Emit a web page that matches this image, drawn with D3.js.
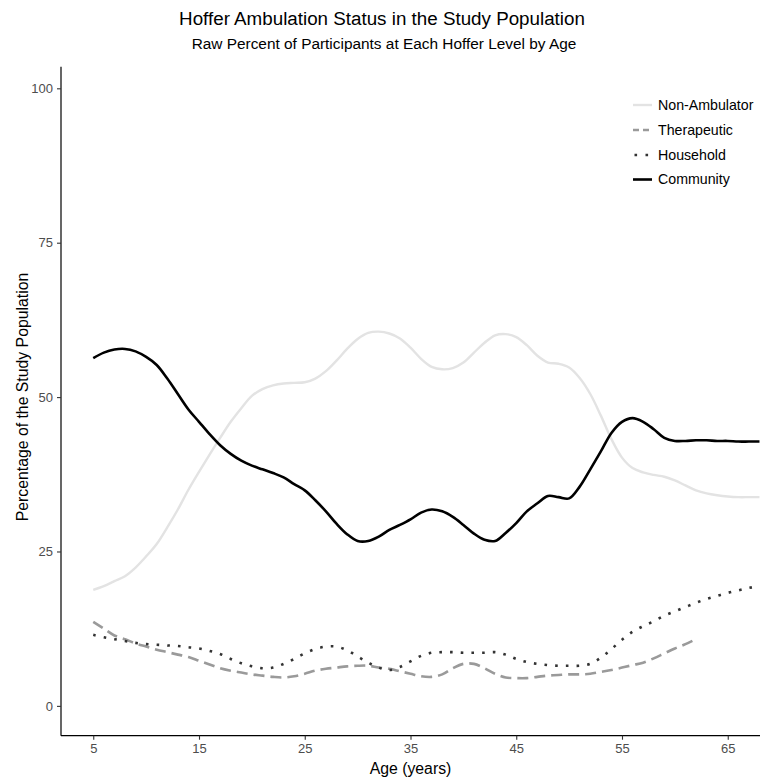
<!DOCTYPE html>
<html>
<head>
<meta charset="utf-8">
<script src="https://cdn.jsdelivr.net/npm/d3@7"></script>
<style>
  html, body { margin: 0; padding: 0; background: #fff; }
  svg { display: block; font-family: "Liberation Sans", Arial, Helvetica, sans-serif; }
</style>
</head>
<body>
<svg id="chart" width="760" height="781"></svg>
<script>
// ---- Data ----
const seriesNames = ["Non-Ambulator", "Therapeutic", "Household", "Community"];

const agesFull = d3.range(5, 69);          // 5..68
const agesTherapeutic = d3.range(5, 63);   // 5..62

const nonAmbulator = [18.8,19.4,20.2,21.0,22.4,24.2,26.2,28.9,31.8,35.0,37.9,40.7,43.4,46.0,48.2,50.2,51.3,51.9,52.2,52.3,52.4,53.0,54.2,55.9,57.8,59.4,60.4,60.6,60.3,59.5,58.0,56.2,54.9,54.5,54.7,55.6,57.2,58.8,60.0,60.2,59.7,58.4,56.7,55.6,55.4,54.8,53.1,50.5,47.0,43.2,40.2,38.5,37.8,37.4,37.1,36.5,35.7,34.9,34.4,34.1,33.9,33.8,33.8,33.8];

const therapeutic = [13.6,12.5,11.4,10.8,10.1,9.6,9.1,8.7,8.3,7.9,7.3,6.7,6.1,5.7,5.4,5.1,4.9,4.7,4.6,4.8,5.2,5.7,6.0,6.2,6.4,6.5,6.5,6.2,6.0,5.6,5.2,4.8,4.7,5.1,6.1,6.8,6.8,6.1,5.2,4.6,4.5,4.5,4.7,4.9,5.0,5.1,5.1,5.2,5.5,5.8,6.2,6.6,7.0,7.7,8.5,9.3,10.0,10.8];

const household = [11.5,11.1,10.8,10.5,10.2,10.0,9.9,9.8,9.7,9.5,9.3,8.9,8.4,7.6,6.9,6.4,6.1,6.2,6.8,7.6,8.5,9.2,9.6,9.6,9.0,8.0,7.0,6.2,5.8,6.3,7.2,8.1,8.6,8.7,8.7,8.6,8.6,8.6,8.7,8.3,7.6,7.1,6.8,6.6,6.5,6.5,6.5,6.8,7.8,9.2,10.7,12.0,12.9,13.7,14.6,15.3,16.0,16.7,17.3,17.8,18.3,18.7,19.1,19.4];

const community = [56.3,57.2,57.7,57.8,57.4,56.5,55.2,53.0,50.5,48.0,46.0,44.0,42.2,40.8,39.7,38.9,38.3,37.7,37.0,35.9,34.9,33.3,31.5,29.5,27.8,26.7,26.7,27.4,28.5,29.3,30.2,31.3,31.8,31.5,30.6,29.3,27.9,26.9,26.7,28.0,29.6,31.5,32.8,34.0,33.8,33.6,35.5,38.3,41.2,44.2,46.0,46.6,46.0,44.8,43.4,42.9,42.9,43.0,43.0,42.9,42.9,42.8,42.8,42.8];

const xTicks = [5, 15, 25, 35, 45, 55, 65];
const yTicks = [0, 25, 50, 75, 100];

// ---- Layout ----
const svg = d3.select("#chart");
const plotLeft = 61, plotRight = 760, plotTop = 66.7, plotBottom = 735.7;

const x = d3.scaleLinear().domain([1.95, 68.05]).range([plotLeft, plotRight]);
const y = d3.scaleLinear().domain([-4.83, 103.5]).range([plotBottom, plotTop]);

// Titles
svg.append("text").attr("x", 382).attr("y", 24.5).attr("text-anchor", "middle")
  .attr("font-size", 18.8).attr("fill", "#000")
  .text("Hoffer Ambulation Status in the Study Population");
svg.append("text").attr("x", 384).attr("y", 49).attr("text-anchor", "middle")
  .attr("font-size", 15.4).attr("fill", "#000")
  .text("Raw Percent of Participants at Each Hoffer Level by Age");

// Axes
const xAxis = svg.append("g").attr("transform", `translate(0,${plotBottom})`)
  .call(d3.axisBottom(x).tickValues(xTicks).tickSize(4).tickPadding(4).tickSizeOuter(0));
const yAxis = svg.append("g").attr("transform", `translate(${plotLeft},0)`)
  .call(d3.axisLeft(y).tickValues(yTicks).tickSize(4).tickPadding(4).tickSizeOuter(0));
[xAxis, yAxis].forEach(g => {
  g.select(".domain").attr("stroke", "#000").attr("stroke-width", 1.2);
  g.selectAll(".tick line").attr("stroke", "#333").attr("stroke-width", 1.1);
  g.selectAll(".tick text").attr("fill", "#4d4d4d").attr("font-size", 13)
    .attr("font-family", "Liberation Sans, Arial, sans-serif");
});
xAxis.select(".domain").attr("d", `M${plotLeft},0H${plotRight}`);
yAxis.select(".domain").attr("d", `M0,${plotTop}V${plotBottom}`);

svg.append("text").attr("x", 410.5).attr("y", 774).attr("text-anchor", "middle")
  .attr("font-size", 15.8).attr("fill", "#000").text("Age (years)");
svg.append("text").attr("transform", `translate(28,397) rotate(-90)`)
  .attr("text-anchor", "middle").attr("font-size", 15.8).attr("fill", "#000")
  .text("Percentage of the Study Population");

// Series
const styles = {
  "Non-Ambulator": { color: "#e3e3e3", width: 2.4, dash: null },
  "Therapeutic": { color: "#9a9a9a", width: 2.6, dash: "11,6" },
  "Household": { color: "#333333", width: 2.6, dash: "2.6,8.1" },
  "Community": { color: "#000000", width: 2.6, dash: null }
};
const seriesData = {
  "Non-Ambulator": agesFull.map((a, i) => [a, nonAmbulator[i]]),
  "Therapeutic": agesTherapeutic.map((a, i) => [a, therapeutic[i]]),
  "Household": agesFull.map((a, i) => [a, household[i]]),
  "Community": agesFull.map((a, i) => [a, community[i]])
};
const line = d3.line().x(d => x(d[0])).y(d => y(d[1])).curve(d3.curveCatmullRom.alpha(0.5));

const gLines = svg.append("g");
seriesNames.forEach(name => {
  const s = styles[name];
  gLines.append("path").datum(seriesData[name])
    .attr("fill", "none").attr("stroke", s.color).attr("stroke-width", s.width)
    .attr("stroke-dasharray", s.dash).attr("stroke-linejoin", "round")
    .attr("d", line);
});

// Legend
const legendY = [105, 130, 155, 179.5];
const lg = svg.append("g");
seriesNames.forEach((name, i) => {
  const s = styles[name];
  lg.append("line").attr("x1", 633).attr("x2", 652).attr("y1", legendY[i]).attr("y2", legendY[i])
    .attr("stroke", s.color).attr("stroke-width", s.width)
    .attr("stroke-dasharray", name === "Therapeutic" ? "6,4" : (name === "Household" ? "2.6,8.4" : null))
    .attr("stroke-dashoffset", name === "Household" ? -1.5 : 0);
  lg.append("text").attr("x", 658).attr("y", legendY[i]).attr("dy", "0.35em")
    .attr("font-size", 14.2).attr("fill", "#000").text(name);
});
</script>
</body>
</html>
